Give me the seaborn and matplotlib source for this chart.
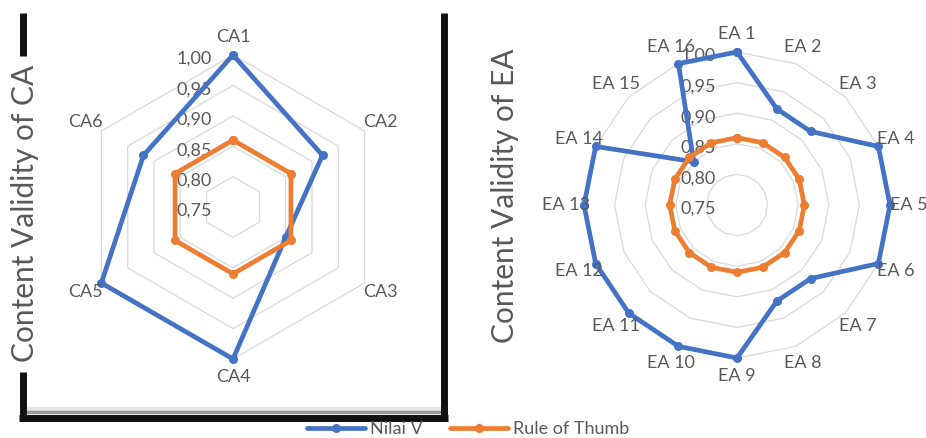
import numpy as np
import matplotlib.pyplot as plt
import seaborn as sns
from matplotlib.lines import Line2D

# data
ca_labels = ['CA1', 'CA2', 'CA3', 'CA4', 'CA5', 'CA6']
ca_nilai_v = [1.00, 0.92, 0.85, 1.00, 1.00, 0.92]
ca_rule = [0.86, 0.86, 0.86, 0.86, 0.86, 0.86]

ea_labels = ['EA 1', 'EA 2', 'EA 3', 'EA 4', 'EA 5', 'EA 6', 'EA 7', 'EA 8',
             'EA 9', 'EA 10', 'EA 11', 'EA 12', 'EA 13', 'EA 14', 'EA 15', 'EA 16']
ea_nilai_v = [1.00, 0.92, 0.92, 1.00, 1.00, 1.00, 0.92, 0.92,
              1.00, 1.00, 1.00, 1.00, 1.00, 1.00, 0.85, 1.00]
ea_rule = [0.86, 0.86, 0.86, 0.86, 0.86, 0.86, 0.86, 0.86,
           0.86, 0.86, 0.86, 0.86, 0.86, 0.86, 0.86, 0.86]

r_ticks = [0.75, 0.80, 0.85, 0.90, 0.95, 1.00]
r_tick_labels = ['0,75', '0,80', '0,85', '0,90', '0,95', '1,00']

series_names = ['Nilai V', 'Rule of Thumb']
blue = '#4472C4'
orange = '#ED7D31'
grey_txt = '#595959'

sns.set_theme(style='white')
plt.rcParams['font.family'] = ['Lato', 'DejaVu Sans']

fig = plt.figure(figsize=(9.26, 4.38), dpi=100)


def radar(rect, labels, nilai, rule):
    ax = fig.add_axes(rect, polar=True)
    ax.set_theta_offset(np.pi / 2)
    ax.set_theta_direction(-1)
    n = len(labels)
    theta = np.linspace(0, 2 * np.pi, n, endpoint=False)
    th = np.append(theta, 2 * np.pi)

    # polygon grid like excel
    for t in r_ticks[1:]:
        ax.plot(th, [t] * (n + 1), color='#d9d9d9', lw=0.9, zorder=1, clip_on=False)

    sns.lineplot(x=th, y=nilai + nilai[:1], ax=ax, sort=False, estimator=None,
                 color=blue, lw=3.4, marker='o', markersize=6.5, markeredgewidth=0,
                 clip_on=False, zorder=3)
    sns.lineplot(x=th, y=rule + rule[:1], ax=ax, sort=False, estimator=None,
                 color=orange, lw=3.4, marker='o', markersize=6.5, markeredgewidth=0,
                 clip_on=False, zorder=4)

    ax.set_ylim(0.75, 1.0)
    ax.set_xticks([])
    ax.set_yticks([])
    ax.grid(False)
    ax.spines['polar'].set_visible(False)
    ax.set_xlabel('')
    ax.set_ylabel('')
    ax.patch.set_alpha(0)

    for t, lbl in zip(r_ticks, r_tick_labels):
        ax.annotate(lbl, xy=(0, t), xytext=(-21, -4), textcoords='offset pixels',
                    ha='right', va='center', fontsize=13, color=grey_txt, zorder=2)
    for a, lbl in zip(theta, labels):
        ax.text(a, 1.03, lbl, ha='center', va='center', fontsize=13, color=grey_txt)
    return ax


W, H = 926, 438
radar([81 / W, (H - 359) / H, 304 / W, 304 / H], ca_labels, ca_nilai_v, ca_rule)
radar([584 / W, (H - 358) / H, 306 / W, 306 / H], ea_labels, ea_nilai_v, ea_rule)

fig.text(25 / W, 1 - 213 / H, 'Content Validity of CA', rotation=90,
         ha='center', va='center', fontsize=21.5, color=grey_txt)
fig.text(505 / W, 1 - 196 / H, 'Content Validity of EA', rotation=90,
         ha='center', va='center', fontsize=21.5, color=grey_txt)

# black frame around the left chart (screenshot border)
def seg(x0, y0, x1, y1, c='#111111', lw=5):
    fig.add_artist(Line2D([x0 / W, x1 / W], [1 - y0 / H, 1 - y1 / H],
                          transform=fig.transFigure, color=c, lw=lw,
                          solid_capstyle='butt'))

seg(22, 409, 444, 409, c='#e6e6e6', lw=3)
seg(22, 412, 444, 412, c='#9a9a9a', lw=2.5)
seg(22.5, 13, 22.5, 56)
seg(22.5, 372, 22.5, 418)
seg(19, 418, 448, 418)
seg(444, 13, 444, 420)

handles = [Line2D([], [], color=blue, lw=3.4, marker='o', markersize=6.5, markeredgewidth=0),
           Line2D([], [], color=orange, lw=3.4, marker='o', markersize=6.5, markeredgewidth=0)]
fig.legend(handles, series_names, loc='center', bbox_to_anchor=(468 / W, 9 / H),
           ncol=2, frameon=False, fontsize=13, labelcolor=grey_txt,
           handlelength=3.2, handletextpad=0.3, columnspacing=1.5)

fig.savefig('out.png', dpi=100)
